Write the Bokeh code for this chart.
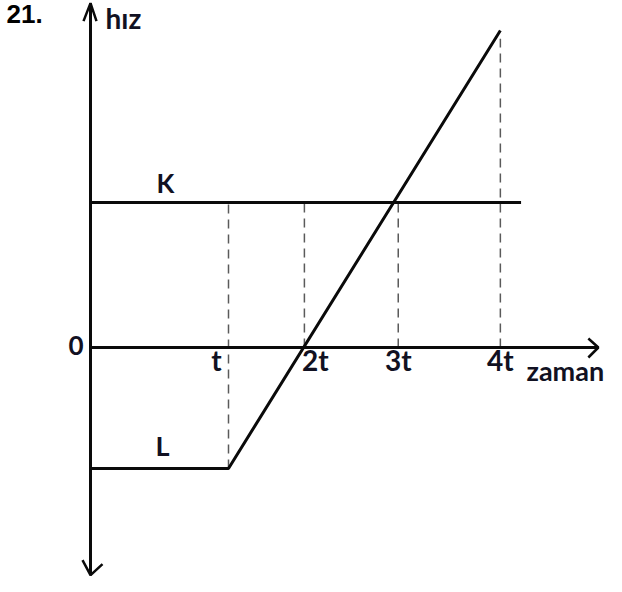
from bokeh.plotting import figure
from bokeh.models import Range1d
from bokeh.embed import file_html
from bokeh.resources import INLINE
from bokeh.core.properties import value

# ---- data (x in units of the drawn time scale, y in units of K's speed) ----
tick_labels = ["t", "2t", "3t", "4t"]
tick_x = [1.0, 1.55, 2.23, 2.97]
k_speed = 1.0
l_speed = -0.834
k_x = [0.0, 3.12]
k_v = [k_speed, k_speed]
l_x = [0.0, 1.0, 2.97]
l_v = [l_speed, l_speed, 2.186]
dash_top = [k_speed, k_speed, k_speed, 2.13]
dash_bottom = [l_speed, 0.0, 0.0, 0.0]
x_axis_end = 3.68
y_axis_top = 2.375
y_axis_bottom = -1.57

# ---- layout ----
W, H = 606, 576
x0, x1 = -90 / 138, 516 / 138
y0, y1 = -229 / 145, 347 / 145
SX = W / (x1 - x0)
SY = H / (y1 - y0)


def px(d):
    return d / SX


def py(d):
    return d / SY


p = figure(width=W, height=H, output_backend="svg", toolbar_location=None,
           x_range=Range1d(x0, x1), y_range=Range1d(y0, y1),
           x_axis_type=None, y_axis_type=None, min_border=0)
p.outline_line_color = None
p.grid.visible = False
p.background_fill_color = "white"
p.border_fill_color = "white"

INK = "#0a0a0a"
LW = 3

# dashed guide lines
p.segment(x0=tick_x, y0=dash_bottom, x1=tick_x, y1=dash_top,
          line_color="#5a5a5a", line_width=1.5, line_dash="9 6")

# axes
p.line([0, x_axis_end], [0, 0], line_color=INK, line_width=LW)
p.line([0, 0], [y_axis_bottom, y_axis_top], line_color=INK, line_width=LW)
# arrow heads
p.multi_line(
    xs=[[x_axis_end - px(10), x_axis_end, x_axis_end - px(10)],
        [-px(7), 0, px(6)],
        [-px(8), 0, px(12)]],
    ys=[[py(9), 0, -py(10)],
        [y_axis_top - py(18), y_axis_top, y_axis_top - py(18)],
        [y_axis_bottom + py(15), y_axis_bottom, y_axis_bottom + py(11)]],
    line_color=INK, line_width=2.5)

# K and L
p.line(k_x, k_v, line_color=INK, line_width=LW)
p.line(l_x, l_v, line_color=INK, line_width=LW)

FONT = value("Lato")
TXT = "#111122"

# tick labels
tick_dx = [-12, 11, 0, 0]
p.text(x=[tx + px(d) for tx, d in zip(tick_x, tick_dx)], y=[-py(12)] * 4,
       text=tick_labels, text_font=FONT, text_font_style="bold",
       text_font_size="28px", text_align="center", text_baseline="alphabetic",
       text_color=TXT)

p.text(x=[-px(7)], y=[py(2)], text=["0"], text_font=FONT,
       text_font_style="bold", text_font_size="26px", text_align="right",
       text_baseline="alphabetic", text_color=TXT)

p.text(x=[px(66)], y=[k_speed + py(20)], text=["K"], text_font=FONT,
       text_font_style="bold", text_font_size="26px", text_align="left",
       text_baseline="alphabetic", text_color=TXT)
p.text(x=[px(65)], y=[l_speed + py(23)], text=["L"], text_font=FONT,
       text_font_style="bold", text_font_size="27px", text_align="left",
       text_baseline="alphabetic", text_color=TXT)

p.text(x=[px(15)], y=[py(330)], text=["hız"], text_font=FONT,
       text_font_style="bold", text_font_size="28px", text_align="left",
       text_baseline="alphabetic", text_color=TXT)

p.text(x=[px(436)], y=[-py(23)], text=["zaman"], text_font=FONT,
       text_font_style="bold", text_font_size="27px", text_align="left",
       text_baseline="alphabetic", text_color=TXT)

p.text(x=[x0 + px(6)], y=[py(334)], text=["21."],
       text_font=value("Liberation Sans"), text_font_style="bold",
       text_font_size="26px", text_align="left", text_baseline="alphabetic",
       text_color="#000000")

open("out.html", "w").write(file_html(p, INLINE))
